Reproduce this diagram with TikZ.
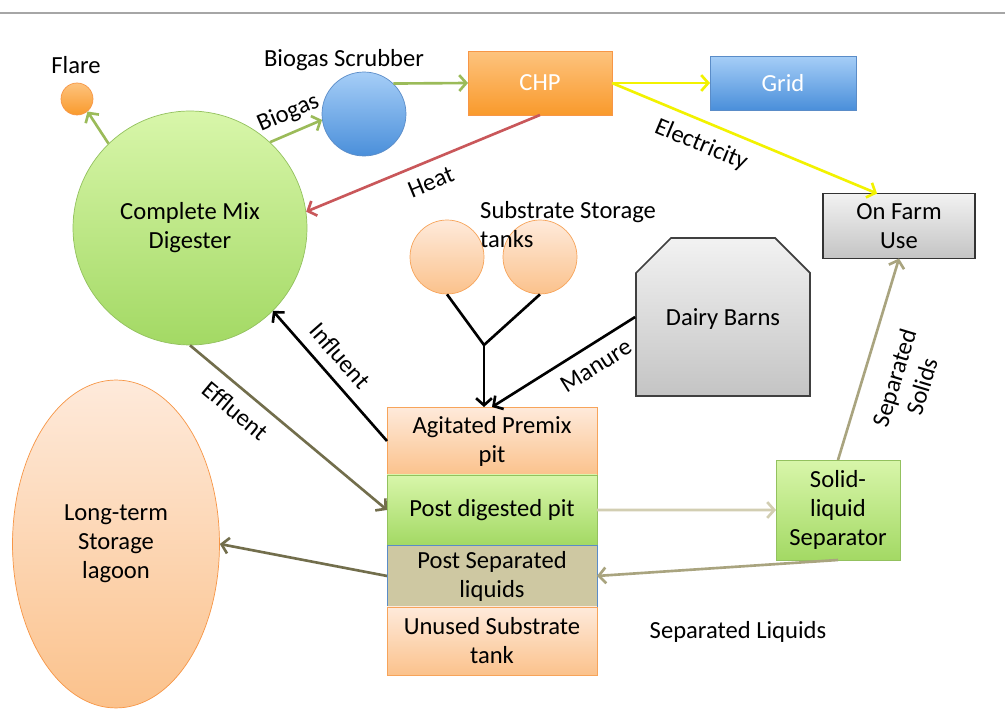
\documentclass[tikz,border=0pt]{standalone}
\usepackage{fontspec}
\setmainfont{Carlito}
\usetikzlibrary{arrows.meta,positioning,shapes.geometric,shapes.misc}

\definecolor{gtop}{HTML}{D8F6AA}
\definecolor{gbot}{HTML}{A3D964}
\definecolor{gline}{HTML}{93C15E}
\definecolor{otop}{HTML}{FDC37E}
\definecolor{obot}{HTML}{F99A2C}
\definecolor{oline}{HTML}{F79646}
\definecolor{ltop}{HTML}{FEEADB}
\definecolor{lbot}{HTML}{FBC28C}
\definecolor{lline}{HTML}{F7A45A}
\definecolor{btop}{HTML}{A6CEF7}
\definecolor{bbot}{HTML}{4A8FDA}
\definecolor{bline}{HTML}{5A8CC8}
\definecolor{ytop}{HTML}{F2F2F2}
\definecolor{ybot}{HTML}{C4C4C4}
\definecolor{tanfill}{HTML}{CEC8A2}
\definecolor{arrgreen}{HTML}{9BBB59}
\definecolor{arryellow}{HTML}{F2F200}
\definecolor{arrred}{HTML}{C9575A}
\definecolor{arrolive}{HTML}{726E4C}
\definecolor{arrtan}{HTML}{D2CEB2}
\definecolor{arrsolid}{HTML}{A9A47F}

\begin{document}
\begin{tikzpicture}[x=0.02cm,y=-0.02cm,
    font=\fontsize{14pt}{16.5pt}\selectfont,
    every node/.style={align=center,text=black},
    flow/.style={line width=1.5pt,-{Straight Barb[length=4pt,width=9pt]}},
    greenball/.style={circle,draw=gline,top color=gtop,bottom color=gbot,inner sep=0pt},
    orangeball/.style={circle,draw=oline,top color=otop,bottom color=obot,inner sep=0pt},
    blueball/.style={circle,draw=bline,top color=btop,bottom color=bbot,inner sep=0pt},
    tank/.style={circle,draw=lline,top color=ltop,bottom color=lbot,inner sep=0pt,minimum size=1.48cm},
    box/.style={rectangle,inner sep=0pt,outer sep=0pt,minimum width=4.2cm},
    pit/.style={box,draw=lline,top color=ltop,bottom color=lbot},
    greenbox/.style={box,draw=gline,top color=gtop,bottom color=gbot}]

  \fill[white] (0,0) rectangle (1005,709);
  \useasboundingbox (0,0) rectangle (1005,709);
  \draw[gray!70,line width=1pt] (0,13) -- (1005,13);

  % gas side
  \node[greenball,minimum size=4.68cm] (dig) at (190,228) {Complete Mix\\Digester};
  \node[orangeball,minimum size=0.64cm] (flare) at (77,99) {};
  \node (flarelbl) at (76,65) {Flare};
  \node[blueball,minimum size=1.68cm] (scr) at (364,114) {};
  \node (scrlbl) at (344,60) {Biogas Scrubber};
  \node[box,draw=oline,top color=otop,bottom color=obot,text=white,
        minimum width=2.88cm,minimum height=1.28cm] (chp) at (540,83) {CHP};
  \node[box,draw=bline,top color=btop,bottom color=bbot,text=white,
        minimum width=2.92cm,minimum height=1.08cm] (grid) at (783,83) {Grid};
  \node[box,draw=black!80,line width=1pt,top color=ytop,bottom color=ybot,
        minimum width=3.04cm,minimum height=1.3cm] (ofu) at (899,226) {On Farm\\Use};

  % feed side
  \foreach \n/\x in {tankA/447,tankB/540}
    \node[tank] (\n) at (\x,257) {};
  \node[align=left,anchor=north west] (tanklbl) at (474,195) {Substrate Storage\\tanks};
  \coordinate (junc) at (484,345);
  \node[chamfered rectangle,chamfered rectangle corners={north west,north east},
        chamfered rectangle xsep=0.44cm,chamfered rectangle ysep=0.44cm,
        draw=black!75,line width=1pt,top color=ytop,bottom color=ybot,inner sep=0pt,
        minimum width=3.48cm,minimum height=3.16cm] (barn) at (723,317) {\\[-4pt]Dairy Barns};

  % pit stack
  \node[pit,minimum height=1.36cm] (premix) at (492,441) {Agitated Premix\\pit};
  \node[greenbox,minimum height=1.4cm,below=0pt of premix] (postdig) {Post digested pit};
  \node[box,draw=bline,fill=tanfill,minimum height=1.24cm,below=0pt of postdig] (postsep) {Post Separated\\liquids};
  \node[pit,minimum height=1.36cm,below=0pt of postsep] (unused) {Unused Substrate\\tank};

  \node[ellipse,draw=oline,top color=ltop,bottom color=lbot,inner sep=0pt,
        minimum width=4.14cm,minimum height=6.56cm] (lagoon) at (116,544) {Long-term\\Storage\\lagoon};
  \node[greenbox,minimum width=2.48cm,minimum height=2cm] (sep) at (838,510) {Solid-\\liquid\\Separator};
  \node (liqlbl) at (738,632) {Separated Liquids};

  % connectors
  \draw[flow,arrgreen] (dig.134) -- (flare.-50);
  \draw[flow,arrgreen] (dig.47) -- node[sloped,above=1pt] (biogaslbl) {Biogas} (scr.188);
  \draw[flow,arrgreen] (scr.46) -- (chp.west);
  \draw[flow,arryellow] (chp.east) -- (grid.west);
  \draw[flow,arryellow] (chp.east) -- node[sloped,below=3pt,pos=0.37] (eleclbl) {Electricity} (ofu.124);
  \draw[flow,arrred] (chp.south) -- node[sloped,below=3pt] (heatlbl) {Heat} (dig.8);
  \draw[line width=1.5pt] (tankA.south) -- (junc) -- (tankB.south);
  \draw[flow,black] (junc) -- (junc |- premix.north);
  \draw[flow,black] (barn.west) -- node[sloped,below=3pt,pos=0.35] (manurelbl) {Manure} (premix.north);
  \draw[flow,black] (premix.west) -- node[sloped,above=3pt,pos=0.55] (inflbl) {Influent} (dig.-45);
  \draw[flow,arrolive] (dig.south) -- node[sloped,below=3pt,pos=0.3] (efflbl) {Effluent} (postdig.west);
  \draw[flow,arrolive] (postsep.west) -- (lagoon.east);
  \draw[flow,arrtan] (postdig.east) -- (sep.west);
  \draw[flow,arrsolid] (sep.north) -- node[sloped,below=8pt,pos=0.45] (solidlbl) {Separated\\Solids} (ofu.south);
  \draw[flow,arrsolid] (sep.south) -- (postsep.east);
\end{tikzpicture}
\end{document}
